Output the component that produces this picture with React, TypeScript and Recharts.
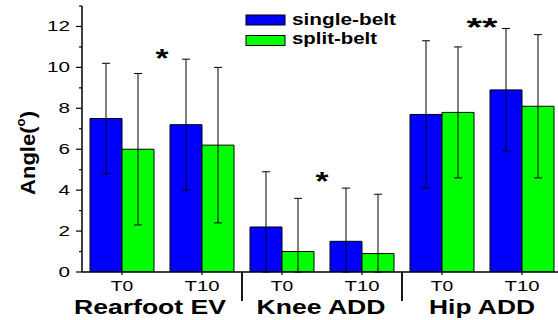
import React from 'react';
import { BarChart, Bar, XAxis, YAxis, ErrorBar, Legend, ReferenceDot } from 'recharts';

const categoryIds = ['RE-T0', 'RE-T10', 'KA-T0', 'KA-T10', 'HA-T0', 'HA-T10'];
const timeLabels = ['T0', 'T10', 'T0', 'T10', 'T0', 'T10'];
const groupLabels = ['Rearfoot EV', 'Knee ADD', 'Hip ADD'];
const singleBelt = [7.5, 7.2, 2.2, 1.5, 7.7, 8.9];
const singleBeltSD = [2.7, 3.2, 2.7, 2.6, 3.6, 3.0];
const splitBelt = [6.0, 6.2, 1.0, 0.9, 7.8, 8.1];
const splitBeltSD = [3.7, 3.8, 2.6, 2.9, 3.2, 3.5];
const yTicks = [0, 1, 2, 3, 4, 5, 6, 7, 8, 9, 10, 11, 12, 13];
const sigAt = ['RE-T10', 'KA-T10', 'HA-T10'];
const sigY = [10.66, 4.63, 12.17];
const sigMark = ['*', '*', '**'];

// error bars are cut at the axis (value 0), as in the original plot
const data = categoryIds.map((id, i) => ({
  id,
  single: singleBelt[i],
  singleErr: [Math.min(singleBeltSD[i], singleBelt[i]), singleBeltSD[i]],
  split: splitBelt[i],
  splitErr: [Math.min(splitBeltSD[i], splitBelt[i]), splitBeltSD[i]],
}));

const FONT = '"Liberation Sans", Arial, Helvetica, sans-serif';
const GROUP_SHIFT = [-12, -1, 0];

function YTick(props: any) {
  const { x, y, payload } = props;
  const v = payload.value;
  const major = v % 2 === 0;
  const s = String(v);
  return (
    <g>
      <line x1={x - (major ? 6 : 3)} x2={x} y1={y} y2={y} stroke="#000" strokeWidth={1.2} />
      {major && (
        <text
          x={x - 12}
          y={y + 5}
          textAnchor="end"
          fontFamily={FONT}
          fontSize={14}
          fill="#000"
          textLength={s.length * 11.5}
          lengthAdjust="spacingAndGlyphs"
        >
          {s}
        </text>
      )}
    </g>
  );
}

function XTick(props: any) {
  const { x, y, payload } = props;
  const i = payload.index ?? props.index;
  const half = payload.offset ?? 40;
  const lbl = timeLabels[i];
  const axisY = y - 3;
  return (
    <g>
      <text
        x={x}
        y={axisY + 19}
        textAnchor="middle"
        fontFamily={FONT}
        fontSize={14}
        fill="#000"
        textLength={lbl.length === 2 ? 22.5 : 35}
        lengthAdjust="spacingAndGlyphs"
      >
        {lbl}
      </text>
      {i % 2 === 0 && (
        <text
          x={x + half + GROUP_SHIFT[i / 2]}
          y={axisY + 41.5}
          textAnchor="middle"
          fontFamily={FONT}
          fontSize={20}
          fontWeight="bold"
          fill="#000"
          textLength={[152, 129, 106][i / 2]}
          lengthAdjust="spacingAndGlyphs"
        >
          {groupLabels[i / 2]}
        </text>
      )}
      {i % 2 === 0 && i > 0 && (
        <line x1={x - half} x2={x - half} y1={axisY} y2={axisY + 29} stroke="#000" strokeWidth={1.8} />
      )}
    </g>
  );
}

function YLabel(props: any) {
  const vb = props.viewBox || { x: 42, y: 6, width: 40, height: 266 };
  const cx = vb.x - 14;
  const cy = vb.y + vb.height / 2 + 14;
  return (
    <text
      x={cx}
      y={cy}
      transform={`rotate(-90, ${cx}, ${cy})`}
      textAnchor="middle"
      dominantBaseline="central"
      fontFamily={FONT}
      fontSize={20}
      fontWeight="bold"
      fill="#000"
      textLength={84}
      lengthAdjust="spacingAndGlyphs"
    >
      Angle(<tspan fontSize={12} dy={-7}>o</tspan><tspan dy={7}>)</tspan>
    </text>
  );
}

function LegendContent(props: any) {
  const payload = props.payload || [];
  const widths = [104, 85];
  return (
    <svg width={170} height={50} style={{ display: 'block' }}>
      {payload.map((p: any, k: number) => (
        <g key={k}>
          <rect x={6} y={15 + k * 20.5} width={39} height={10} fill={p.color} stroke="#000" strokeWidth={1} />
          <text
            x={52}
            y={25 + k * 18.5}
            fontFamily={FONT}
            fontSize={16}
            fontWeight="bold"
            fill="#000"
            textLength={widths[k]}
            lengthAdjust="spacingAndGlyphs"
          >
            {p.value}
          </text>
        </g>
      ))}
    </svg>
  );
}

function SigMark(props: any) {
  const { cx, cy, mark } = props;
  return (
    <text
      x={cx - 40}
      y={cy + 13}
      textAnchor="middle"
      fontFamily={FONT}
      fontSize={26}
      fontWeight="bold"
      fill="#000"
      textLength={mark.length === 1 ? 13 : 31}
      lengthAdjust="spacingAndGlyphs"
    >
      {mark}
    </text>
  );
}

export default function App() {
  return (
    <div style={{ position: 'absolute', left: 0, top: 0, width: 558, height: 320, overflow: 'hidden', background: '#fff' }}>
      <BarChart
        width={570}
        height={320}
        data={data}
        margin={{ top: 6, right: 8, bottom: 18, left: 42 }}
        barCategoryGap="10%"
        barGap={0}
      >
        <XAxis
          dataKey="id"
          height={30}
          interval={0}
          tickSize={3}
          tickMargin={0}
          tickLine={{ stroke: '#000', strokeWidth: 1.2 }}
          axisLine={{ stroke: '#000', strokeWidth: 1.5 }}
          tick={<XTick />}
        />
        <YAxis
          width={40}
          domain={[0, 13]}
          ticks={yTicks}
          interval={0}
          allowDataOverflow
          tickSize={0}
          tickMargin={0}
          tickLine={false}
          axisLine={{ stroke: '#000', strokeWidth: 1.5 }}
          tick={<YTick />}
          label={<YLabel />}
        />
        <Legend
          layout="horizontal"
          verticalAlign="middle"
          align="center"
          wrapperStyle={{ position: 'absolute', left: 240, top: 0, width: 170, height: 50 }}
          content={<LegendContent />}
        />
        <Bar dataKey="single" name="single-belt" fill="#0000ff" stroke="#000" strokeWidth={1} isAnimationActive={false}>
          <ErrorBar dataKey="singleErr" width={4} stroke="#000" strokeWidth={1} direction="y" isAnimationActive={false} />
        </Bar>
        <Bar dataKey="split" name="split-belt" fill="#00ff00" stroke="#000" strokeWidth={1} isAnimationActive={false}>
          <ErrorBar dataKey="splitErr" width={4} stroke="#000" strokeWidth={1} direction="y" isAnimationActive={false} />
        </Bar>
        {sigAt.map((id, k) => (
          <ReferenceDot
            key={id}
            x={id}
            y={sigY[k]}
            r={0}
            ifOverflow="visible"
            shape={(p: any) => <SigMark {...p} mark={sigMark[k]} />}
          />
        ))}
      </BarChart>
    </div>
  );
}
